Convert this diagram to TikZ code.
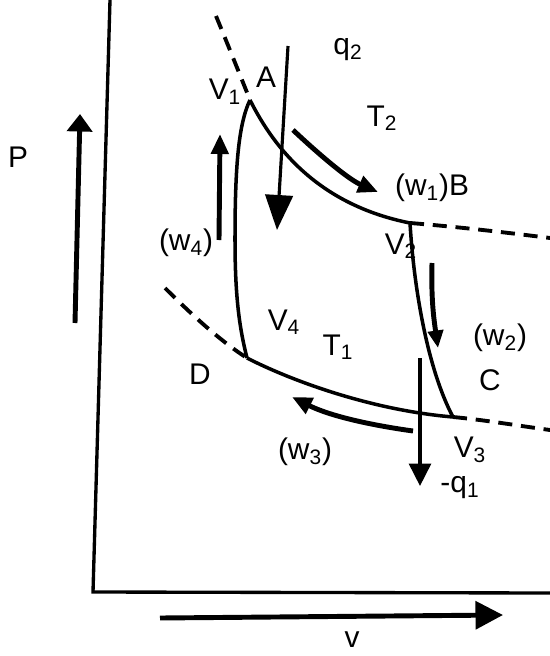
\documentclass[tikz,border=0pt]{standalone}
\usepackage{fontspec}
\setmainfont{Liberation Sans}
\usepackage{tikz}
\usetikzlibrary{arrows.meta}

\begin{document}
\begin{tikzpicture}[x=0.02cm, y=-0.02cm,
  lbl/.style={inner sep=0pt, font=\fontsize{17}{19}\selectfont},
  isoline/.style={line width=2pt},
  extline/.style={line width=2.2pt, dash pattern=on 8pt off 5pt},
  axisline/.style={line width=1.9pt},
  flowarrow/.style={line width=2.8pt, -{Triangle[length=4mm,width=3.4mm]}},
  bigarrow/.style={line width=1.8pt, -{Triangle[length=7mm,width=5.5mm]}}
]
  \useasboundingbox (0,0) rectangle (550,656);

  % corner points of the cycle
  \coordinate (A) at (250,100);
  \coordinate (B) at (410,223);
  \coordinate (C) at (453,417);
  \coordinate (D) at (247,358);
  \coordinate (origin) at (93,592);

  % axes
  \coordinate (ytop) at (110,0);
  \coordinate (xend) at (550,593);
  \draw[axisline] (ytop) -- (origin) -- (xend);

  % isotherms
  \coordinate (t2a) at (216,16);
  \coordinate (t2b) at (550,238);
  \draw[extline] (t2a) .. controls (228,45) and (242,80) .. (A);
  \draw[isoline] (A) .. controls (275,150) and (320,205) .. (B);
  \draw[extline] (B) .. controls (460,227) and (510,233) .. (t2b);

  \coordinate (t1a) at (165,288);
  \coordinate (t1b) at (550,430);
  \draw[extline] (t1a) .. controls (195,318) and (222,342) .. (D);
  \draw[isoline] (D) .. controls (290,380) and (370,410) .. (C);
  \draw[extline] (C) .. controls (485,420) and (520,426) .. (t1b);

  % adiabats
  \draw[isoline] (A) .. controls (238,125) and (235,170) .. (235,240)
    .. controls (235,300) and (240,330) .. (D);
  \draw[isoline] (B) .. controls (414,290) and (428,370) .. (C);

  % heat and work arrows
  \coordinate (q2s) at (288,46);
  \coordinate (q2e) at (277,230);
  \draw[bigarrow] (q2s) -- (q2e);

  \coordinate (w1s) at (293,130);
  \coordinate (w1e) at (378,192);
  \draw[flowarrow] (w1s) .. controls (325,160) and (350,180) .. (w1e);

  \coordinate (w2s) at (432,263);
  \coordinate (w2e) at (438,348);
  \draw[flowarrow, -{Triangle[length=3.5mm,width=3mm]}] (w2s) .. controls (431,300) and (434,320) .. (w2e);

  \coordinate (q1s) at (420,358);
  \coordinate (q1e) at (420,486);
  \draw[line width=1.8pt, -{Triangle[length=4.5mm,width=4.4mm]}] (q1s) -- (q1e);

  \coordinate (w3s) at (413,431);
  \coordinate (w3e) at (292,397);
  \draw[flowarrow] (w3s) .. controls (370,425) and (330,416) .. (w3e);

  \coordinate (w4s) at (219,240);
  \coordinate (w4e) at (220,134);
  \draw[flowarrow] (w4s) -- (w4e);

  \coordinate (ps) at (75,323);
  \coordinate (pe) at (80,114);
  \draw[flowarrow, -{Triangle[length=3.5mm,width=5mm]}] (ps) -- (pe);

  \coordinate (vs) at (160,618);
  \coordinate (ve) at (503,615);
  \draw[flowarrow, -{Triangle[length=5.5mm,width=5.5mm]}] (vs) -- (ve);

  % labels
  \node[lbl] (q2)  at (348,50)  {q\textsubscript{2}};
  \node[lbl] (lA)  at (266,77)  {A};
  \node[lbl] (V1)  at (225,92)  {V\textsubscript{1}};
  \node[lbl] (T2)  at (382,118) {T\textsubscript{2}};
  \node[lbl] (w1B) at (432,188) {(w\textsubscript{1})B};
  \node[lbl] (V2)  at (401,246) {V\textsubscript{2}};
  \node[lbl] (w4)  at (186,243) {(w\textsubscript{4})};
  \node[lbl] (V4)  at (284,322) {V\textsubscript{4}};
  \node[lbl] (T1)  at (338,347) {T\textsubscript{1}};
  \node[lbl] (lD)  at (200,374) {D};
  \node[lbl] (w2)  at (500,338) {(w\textsubscript{2})};
  \node[lbl] (lC)  at (490,380) {C};
  \node[lbl] (w3)  at (305,452) {(w\textsubscript{3})};
  \node[lbl] (V3)  at (470,450) {V\textsubscript{3}};
  \node[lbl] (q1)  at (460,488) {-q\textsubscript{1}};
  \node[lbl] (lP)  at (18,157)  {P};
  \node[lbl] (lv)  at (352,640) {v};
\end{tikzpicture}
\end{document}
